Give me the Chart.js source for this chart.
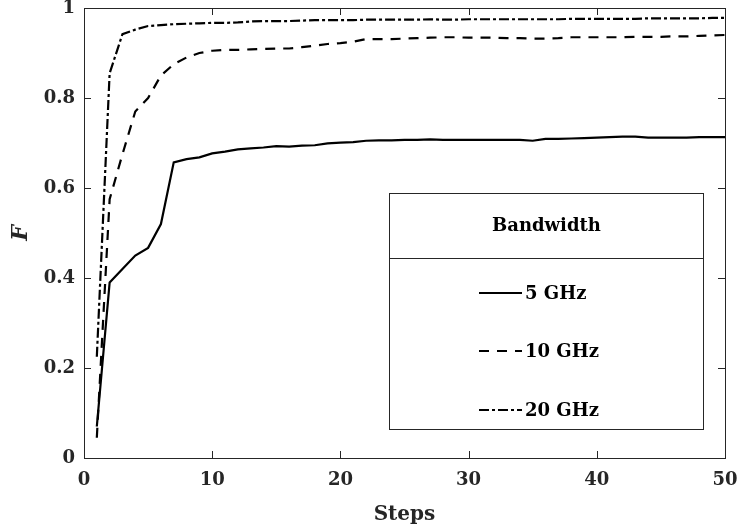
<!DOCTYPE html>
<html>
<head>
<meta charset="utf-8">
<script src="https://cdn.jsdelivr.net/npm/chart.js@4.4.1/dist/chart.umd.min.js"></script>
<style>
  html, body { margin: 0; padding: 0; background: #ffffff; }
  #wrap { width: 740px; height: 529px; position: relative; }
</style>
</head>
<body>
<div id="wrap"><canvas id="c"></canvas></div>
<script>
const steps = Array.from({length: 50}, (_, i) => i + 1);
const seriesNames = ["5 GHz", "10 GHz", "20 GHz"];
const bw5 = [0.070, 0.390, 0.420, 0.450, 0.467, 0.520, 0.657, 0.664, 0.668, 0.677,
             0.681, 0.686, 0.688, 0.690, 0.693, 0.692, 0.694, 0.695, 0.699, 0.701,
             0.702, 0.705, 0.706, 0.706, 0.707, 0.707, 0.708, 0.707, 0.707, 0.707,
             0.707, 0.707, 0.707, 0.707, 0.705, 0.709, 0.709, 0.710, 0.711, 0.712,
             0.713, 0.714, 0.714, 0.712, 0.712, 0.712, 0.712, 0.713, 0.713, 0.713];
const bw10 = [0.045, 0.575, 0.675, 0.770, 0.800, 0.850, 0.875, 0.890, 0.900, 0.905,
              0.907, 0.907, 0.908, 0.909, 0.910, 0.910, 0.913, 0.916, 0.920, 0.922,
              0.925, 0.931, 0.931, 0.931, 0.932, 0.933, 0.934, 0.935, 0.935, 0.934,
              0.934, 0.934, 0.933, 0.933, 0.932, 0.932, 0.933, 0.935, 0.935, 0.935,
              0.935, 0.935, 0.936, 0.936, 0.936, 0.937, 0.937, 0.938, 0.939, 0.940];
const bw20 = [0.225, 0.855, 0.942, 0.952, 0.960, 0.962, 0.964, 0.965, 0.966, 0.967,
              0.967, 0.968, 0.970, 0.971, 0.971, 0.971, 0.972, 0.973, 0.973, 0.973,
              0.973, 0.974, 0.974, 0.974, 0.974, 0.974, 0.975, 0.974, 0.974, 0.975,
              0.975, 0.975, 0.975, 0.975, 0.975, 0.975, 0.975, 0.976, 0.976, 0.976,
              0.976, 0.976, 0.976, 0.977, 0.977, 0.977, 0.977, 0.977, 0.978, 0.978];
const xTicks = [0, 10, 20, 30, 40, 50];
const yTicks = [0, 0.2, 0.4, 0.6, 0.8, 1];
const xTitle = "Steps";
const yTitle = "F";
const legendTitle = "Bandwidth";

const AX = '#262626';
const TICKFONT = {family: 'DejaVu Serif', size: 18, weight: 'bold'};

function toPts(arr) { return steps.map((s, i) => ({x: s, y: arr[i]})); }

const frameTicks = {
  id: 'frameTicks',
  afterDatasetsDraw(chart) {
    const {ctx, chartArea: a, scales: {x, y}} = chart;
    ctx.save();
    ctx.strokeStyle = AX;
    ctx.lineWidth = 1;
    const L = 7;
    ctx.beginPath();
    xTicks.forEach(v => {
      const px = Math.round(x.getPixelForValue(v)) + 0.5;
      ctx.moveTo(px, a.bottom); ctx.lineTo(px, a.bottom - L);
      ctx.moveTo(px, a.top); ctx.lineTo(px, a.top + L);
    });
    yTicks.forEach(v => {
      const py = Math.round(y.getPixelForValue(v)) + 0.5;
      ctx.moveTo(a.left, py); ctx.lineTo(a.left + L, py);
      ctx.moveTo(a.right, py); ctx.lineTo(a.right - L, py);
    });
    ctx.stroke();
    ctx.strokeRect(Math.round(a.left) + 0.5, Math.round(a.top) + 0.5,
                   Math.round(a.right - a.left), Math.round(a.bottom - a.top));

    // legend box
    const w = a.right - a.left, h = a.bottom - a.top;
    const bx0 = Math.round(a.left + 0.476 * w) + 0.5;
    const bx1 = Math.round(a.left + 0.9657 * w) + 0.5;
    const by0 = Math.round(a.top + 0.411 * h) + 0.5;
    const by1 = Math.round(a.top + 0.936 * h) + 0.5;
    const byd = Math.round(a.top + 0.556 * h) + 0.5;
    ctx.fillStyle = '#ffffff';
    ctx.fillRect(bx0, by0, bx1 - bx0, by1 - by0);
    ctx.strokeStyle = AX;
    ctx.strokeRect(bx0, by0, bx1 - bx0, by1 - by0);
    ctx.beginPath(); ctx.moveTo(bx0, byd); ctx.lineTo(bx1, byd); ctx.stroke();

    ctx.fillStyle = '#000';
    ctx.font = 'bold 18px "DejaVu Serif"';
    ctx.textAlign = 'center';
    ctx.textBaseline = 'middle';
    ctx.fillText(legendTitle, (bx0 + bx1) / 2, (by0 + byd) / 2);

    const rowsY = [293, 351, 410];
    const lx0 = 479, lx1 = 522;
    chart.data.datasets.forEach((ds, i) => {
      ctx.save();
      ctx.strokeStyle = ds.borderColor;
      ctx.lineWidth = ds.borderWidth;
      ctx.setLineDash(ds.borderDash || []);
      ctx.beginPath(); ctx.moveTo(lx0, rowsY[i]); ctx.lineTo(lx1, rowsY[i]); ctx.stroke();
      ctx.restore();
      ctx.fillStyle = '#000';
      ctx.font = 'bold 18px "DejaVu Serif"';
      ctx.textAlign = 'left';
      ctx.fillText(ds.label, lx1 + 3, rowsY[i] + 1);
    });
    ctx.restore();
  }
};

new Chart(document.getElementById('c'), {
  type: 'line',
  data: {
    datasets: [
      {label: seriesNames[0], data: toPts(bw5), borderColor: '#000', borderWidth: 2.2, borderDash: [], pointRadius: 0, tension: 0, fill: false},
      {label: seriesNames[1], data: toPts(bw10), borderColor: '#000', borderWidth: 2.2, borderDash: [10, 8], pointRadius: 0, tension: 0, fill: false},
      {label: seriesNames[2], data: toPts(bw20), borderColor: '#000', borderWidth: 2.2, borderDash: [10, 3, 3, 3], pointRadius: 0, tension: 0, fill: false}
    ]
  },
  options: {
    responsive: true,
    maintainAspectRatio: false,
    animation: false,
    layout: {padding: {left: 0, right: 15, top: 8, bottom: 0}},
    plugins: {legend: {display: false}, tooltip: {enabled: false}},
    scales: {
      x: {
        type: 'linear', min: 0, max: 50,
        afterBuildTicks(s) { s.ticks = xTicks.map(v => ({value: v})); },
        afterFit(s) { s.height = 71; s.paddingLeft = 0; s.paddingRight = 0; },
        grid: {display: false, drawTicks: false},
        border: {display: false},
        ticks: {color: AX, font: TICKFONT, padding: 12, maxRotation: 0},
        title: {display: true, text: xTitle, color: AX, font: {family: 'DejaVu Serif', size: 20, weight: 'bold'}, padding: {top: 0, bottom: 2}}
      },
      y: {
        type: 'linear', min: 0, max: 1,
        afterBuildTicks(s) { s.ticks = yTicks.map(v => ({value: v})); },
        afterFit(s) { s.width = 84; s.paddingTop = 0; s.paddingBottom = 0; },
        grid: {display: false, drawTicks: false},
        border: {display: false},
        ticks: {color: AX, font: TICKFONT, padding: 9, callback: v => String(v)},
        title: {display: true, text: yTitle, color: AX, font: {family: 'DejaVu Serif', size: 22, weight: 'bold', style: 'italic'}, padding: {top: 8, bottom: 0}}
      }
    }
  },
  plugins: [frameTicks]
});
</script>
</body>
</html>
